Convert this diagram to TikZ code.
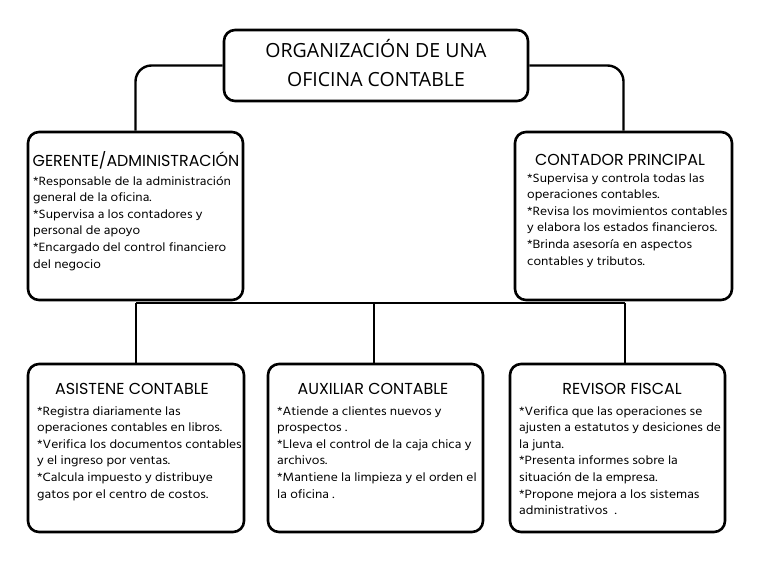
\documentclass[tikz,border=0pt]{standalone}
\usepackage{fontspec}
\setmainfont[FakeStretch=1.1]{Hind Madurai}
\newfontfamily\hdrfont{Poppins}
\newfontfamily\ttlfont{Open Sans}
\begin{document}
\begin{tikzpicture}[x=1pt,y=-1pt,
  box/.style={draw=black,line width=2.6pt,rounded corners=11pt,fill=white,inner sep=0pt},
  conn/.style={draw=black,line width=2.4pt},
  hdr/.style={inner sep=0pt,font=\hdrfont\fontsize{15.9}{18}\selectfont},
  body/.style={inner sep=0pt,anchor=north west,align=left,font=\fontsize{12.3}{16.6}\selectfont}]
\useasboundingbox[fill=white] (0,0) rectangle (768,576);
% boxes
\node[box,minimum width=304pt,minimum height=71pt] (top) at (376,65.5) {};
\node[box,minimum width=215pt,minimum height=168pt] (ger) at (135.5,216) {};
\node[box,minimum width=217pt,minimum height=168pt] (con) at (623.5,216) {};
\node[box,minimum width=216pt,minimum height=168pt] (asi) at (136,448) {};
\node[box,minimum width=215pt,minimum height=168pt] (aux) at (375.5,448) {};
\node[box,minimum width=215pt,minimum height=168pt] (rev) at (617.5,448) {};
% connectors
\draw[conn,rounded corners=16pt] (top.west) -| (ger.north);
\draw[conn,rounded corners=16pt] (top.east) -| (con.north);
\coordinate (bl) at (136,303);
\coordinate (bm) at (374,303);
\coordinate (br) at (625,303);
\draw[conn] (bl) -- (br);
\draw[conn] (bl) -- (bl |- asi.north);
\draw[conn] (bm) -- (bm |- aux.north);
\draw[conn] (br) -- (br |- rev.north);
% title
\node[inner sep=0pt,align=center,font=\ttlfont\fontsize{19.5}{29}\selectfont] (ttl) at (376,63) {ORGANIZACIÓN DE UNA\\OFICINA CONTABLE};
% headers
\node[hdr] (gerh) at (136,160) {GERENTE/ADMINISTRACIÓN};
\node[hdr] (conh) at (620,160) {CONTADOR PRINCIPAL};
\node[hdr] (asih) at (132,389) {ASISTENE CONTABLE};
\node[hdr] (auxh) at (373,389) {AUXILIAR CONTABLE};
\node[hdr] (revh) at (622,389) {REVISOR FISCAL};
% bodies
\node[body] (gerb) at (33,176) {*Responsable de la administración\\general de la oficina.\\*Supervisa a los contadores y\\personal de apoyo\\*Encargado del control financiero\\del negocio};
\node[body] (conb) at (527,173) {*Supervisa y controla todas las\\operaciones contables.\\*Revisa los movimientos contables\\y elabora los estados financieros.\\*Brinda asesoría en aspectos\\contables y tributos.};
\node[body] (asib) at (37,406) {*Registra diariamente las\\operaciones contables en libros.\\*Verifica los documentos contables\\y el ingreso por ventas.\\*Calcula impuesto y distribuye\\gatos por el centro de costos.};
\node[body] (auxb) at (277,406) {*Atiende a clientes nuevos y\\prospectos .\\*Lleva el control de la caja chica y\\archivos.\\*Mantiene la limpieza y el orden el\\la oficina .};
\node[body] (revb) at (519,406) {*Verifica que las operaciones se\\ajusten a estatutos y desiciones de\\la junta.\\*Presenta informes sobre la\\situación de la empresa.\\*Propone mejora a los sistemas\\administrativos\ \ .};
\end{tikzpicture}
\end{document}
